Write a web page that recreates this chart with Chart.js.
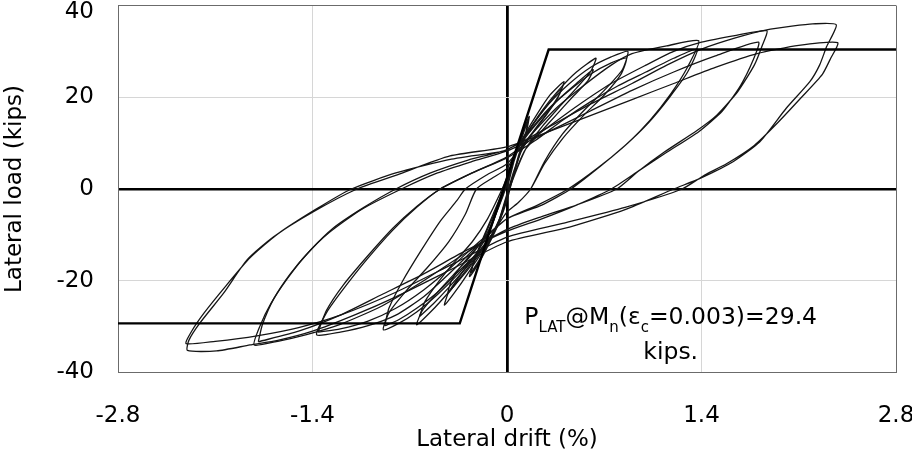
<!DOCTYPE html>
<html>
<head>
<meta charset="utf-8">
<script src="https://cdn.jsdelivr.net/npm/chart.js@4/dist/chart.umd.min.js"></script>
<style>
  html, body { margin: 0; padding: 0; background: #fff; }
</style>
</head>
<body>
<canvas id="myChart" width="912" height="454"></canvas>
<script>
// axis ticks
const xTicks = [-2.8, -1.4, 0, 1.4, 2.8];
const xTickLabels = ['-2.8', '-1.4', '0', '1.4', '2.8'];
const yTicks = [-40, -20, 0, 20, 40];
const yTickLabels = ['-40', '-20', '0', '20', '40'];

// bilinear envelope, P_LAT @ Mn
const envelope = [[-2.8, -29.3], [-0.34, -29.3], [0.30, 30.4], [2.8, 30.4]];

// hysteresis, [drift %, load kips], one array per drift level (two cycles each)
const loop1 = [[0, 0], [0.05, 6], [0.1, 11], [0.16, 15.8],
  [0.14, 12.5], [0.09, 7.5], [0.03, 1], [0, -2.5], [-0.06, -7.5], [-0.13, -12], [-0.2, -16], [-0.27, -19.1],
  [-0.24, -16], [-0.18, -11.5], [-0.1, -6], [-0.03, -1], [0, 1.5], [0.05, 6], [0.1, 10.5], [0.15, 14.8],
  [0.13, 11.5], [0.08, 7], [0.03, 1], [0, -2], [-0.06, -7], [-0.13, -11.5], [-0.2, -15.5], [-0.26, -18.3]];

const loop2 = [[-0.26, -18.3], [-0.23, -15], [-0.17, -10.5], [-0.1, -5.5], [-0.03, -0.5], [0, 2], [0.06, 8], [0.13, 12], [0.22, 16.5], [0.31, 20.5], [0.41, 23.4],
  [0.38, 20.8], [0.3, 17], [0.2, 13], [0.12, 9.5], [0.05, 4], [0, -1], [-0.06, -7], [-0.14, -12], [-0.24, -16.5], [-0.34, -21], [-0.45, -25.3],
  [-0.42, -22.5], [-0.33, -18.5], [-0.22, -14], [-0.13, -9.5], [-0.05, -3], [0, 1.5], [0.06, 7.5], [0.13, 11.5], [0.22, 15.5], [0.31, 19], [0.39, 21.8],
  [0.36, 19.5], [0.28, 16], [0.18, 12], [0.1, 8], [0.04, 2.5], [0, -1.5], [-0.06, -7], [-0.14, -11.5], [-0.24, -15.5], [-0.34, -19.5], [-0.43, -23]];

const loop3 = [[-0.43, -23], [-0.4, -20], [-0.31, -16], [-0.21, -12.5], [-0.12, -8.5], [-0.05, -3], [0, 1.5], [0.06, 8], [0.14, 12], [0.25, 17], [0.37, 21.5], [0.5, 25.5], [0.64, 28.5],
  [0.6, 25.5], [0.5, 22], [0.38, 18], [0.25, 13.5], [0.14, 9], [0.06, 3.5], [0, -1.5], [-0.06, -7.5], [-0.16, -12.5], [-0.28, -17.5], [-0.42, -22.5], [-0.54, -26.5], [-0.65, -29.6],
  [-0.61, -26.5], [-0.5, -22.5], [-0.38, -18.5], [-0.26, -14.5], [-0.15, -10], [-0.06, -4], [0, 1], [0.06, 7.5], [0.14, 11.5], [0.25, 15.5], [0.37, 19.5], [0.5, 23], [0.62, 26],
  [0.58, 23.5], [0.47, 20], [0.35, 16], [0.23, 12], [0.13, 8.5], [0.05, 3], [0, -1.5], [-0.07, -8], [-0.17, -12.5], [-0.29, -17], [-0.42, -21.5], [-0.53, -25], [-0.63, -27.8]];

const loop4 = [[-0.63, -27.8], [-0.59, -24.5], [-0.5, -20.5], [-0.38, -16], [-0.25, -11.5], [-0.14, -6.5], [-0.05, -1], [0, 2.5], [0.07, 8.5], [0.15, 12.5], [0.3, 18.5], [0.45, 23], [0.6, 26.5], [0.75, 28.8], [0.87, 30],
  [0.83, 26], [0.7, 21.5], [0.55, 17], [0.4, 12], [0.27, 6], [0.17, 0], [0.08, -3], [0, -5], [-0.1, -9.5], [-0.2, -13.5], [-0.35, -18.5], [-0.5, -23], [-0.65, -26.8], [-0.78, -29.3], [-0.89, -30.7],
  [-0.85, -27], [-0.72, -22], [-0.57, -17], [-0.42, -11.5], [-0.3, -5.5], [-0.22, 0], [-0.1, 2.5], [0, 4.5], [0.08, 9], [0.16, 12.5], [0.3, 17.5], [0.45, 21.5], [0.6, 25], [0.75, 27.5], [0.86, 28.5],
  [0.82, 25], [0.7, 20.5], [0.55, 16], [0.4, 11], [0.27, 5.5], [0.17, 0], [0.08, -3], [0, -5], [-0.1, -9.5], [-0.2, -13.5], [-0.35, -18], [-0.5, -22.5], [-0.65, -26], [-0.78, -28.5], [-0.88, -29.8]];

const loop5 = [[-0.88, -29.8], [-0.85, -26], [-0.75, -20], [-0.62, -13.5], [-0.48, -7], [-0.36, -2.5], [-0.3, 0], [-0.15, 3], [0, 5.5], [0.15, 11], [0.35, 17.5], [0.55, 22.5], [0.75, 27], [0.9, 29.5], [1.15, 31.2], [1.38, 32.3],
  [1.3, 26.6], [1.18, 20.8], [1.03, 15], [0.87, 10], [0.67, 4.9], [0.46, 0], [0.25, -3.5], [0, -6.5], [-0.2, -12], [-0.4, -18], [-0.6, -23.5], [-0.8, -27.5], [-1.0, -29.8], [-1.2, -31.2], [-1.37, -31.8],
  [-1.3, -27], [-1.18, -21.9], [-1.01, -15.4], [-0.82, -8.9], [-0.65, -4], [-0.48, 0], [-0.25, 3.5], [0, 6.8], [0.2, 10.5], [0.4, 15], [0.6, 19], [0.8, 22.5], [1.0, 25.5], [1.2, 28.5], [1.37, 30.5],
  [1.3, 25.5], [1.17, 20], [1.02, 14.5], [0.85, 9.5], [0.65, 4.5], [0.44, 0], [0.22, -3.5], [0, -6.5], [-0.2, -11.5], [-0.4, -17], [-0.6, -22], [-0.8, -26], [-1.0, -28.8], [-1.2, -30.5], [-1.36, -31.2]];

const loop6 = [[-1.36, -31.2], [-1.3, -26.5], [-1.18, -21], [-1.0, -14.5], [-0.82, -8.5], [-0.65, -3.8], [-0.48, 0], [-0.25, 3.5], [0, 7], [0.25, 12.5], [0.5, 18], [0.75, 23], [1.0, 27], [1.2, 30], [1.4, 32], [1.65, 33.5], [1.87, 34.5],
  [1.84, 31.5], [1.78, 27], [1.66, 21.2], [1.51, 16.1], [1.37, 12.8], [1.13, 8], [0.95, 4], [0.79, 0], [0.5, -3.5], [0.25, -6], [0, -8.8], [-0.3, -14], [-0.6, -20], [-0.9, -25.5], [-1.2, -29.5], [-1.45, -31.8], [-1.65, -33.2], [-1.82, -34],
  [-1.78, -30], [-1.7, -25], [-1.58, -19.5], [-1.45, -14.5], [-1.28, -9.5], [-1.05, -4.5], [-0.76, 0], [-0.5, 3.5], [-0.25, 6], [0, 8.3], [0.3, 12.5], [0.6, 17], [0.9, 21.5], [1.2, 25.5], [1.5, 29], [1.81, 32],
  [1.77, 28], [1.68, 22.5], [1.55, 17], [1.38, 12.5], [1.15, 8], [0.95, 4], [0.75, 0], [0.5, -3.5], [0.25, -6.5], [0, -9.2], [-0.3, -13.5], [-0.6, -18.5], [-0.9, -23], [-1.2, -27.5], [-1.5, -31], [-1.79, -33.3]];

const loop7 = [[-1.79, -33.3], [-1.76, -29.5], [-1.68, -24], [-1.56, -18.5], [-1.42, -13.5], [-1.25, -8.5], [-1.03, -4], [-0.8, 0], [-0.55, 3.5], [-0.28, 6.3], [0, 8.6], [0.3, 13.5], [0.6, 18.5], [0.9, 23], [1.15, 27], [1.4, 30.5], [1.65, 33], [1.87, 34.7], [2.05, 35.5], [2.2, 36], [2.37, 35.8],
  [2.3, 31], [2.25, 27], [2.18, 23.4], [2.01, 17.6], [1.82, 10.3], [1.63, 6], [1.39, 2.3], [1.2, 0], [0.85, -4.5], [0.45, -8.3], [0, -11.5], [-0.4, -17.5], [-0.8, -23.5], [-1.1, -27.5], [-1.4, -31], [-1.65, -33], [-1.85, -34], [-2.09, -35.3], [-2.3, -35.2],
  [-2.29, -33], [-2.21, -29.2], [-2.04, -22.7], [-1.87, -15.4], [-1.68, -10.4], [-1.39, -4.9], [-1.08, 0], [-0.79, 3.1], [-0.41, 7.2], [0, 9.2], [0.3, 12.5], [0.6, 16], [0.9, 19.5], [1.2, 23], [1.5, 26.5], [1.8, 29.5], [2.1, 31.3], [2.38, 31.9],
  [2.33, 28.5], [2.27, 25], [2.12, 20], [1.95, 14.5], [1.78, 9.5], [1.58, 5.5], [1.42, 3], [1.26, 0], [0.85, -4], [0.4, -7.5], [0, -10.5], [-0.4, -16.5], [-0.8, -22.5], [-1.2, -27.5], [-1.5, -30.2], [-1.8, -32], [-2.1, -33.2], [-2.31, -33.7],
  [-2.27, -31], [-2.18, -27], [-2.02, -21], [-1.85, -15], [-1.65, -9.8], [-1.38, -4.5], [-1.12, 0], [-0.8, 3.5], [-0.4, 6.5], [0, 8.3]];

const loops = [loop1, loop2, loop3, loop4, loop5, loop6, loop7];

const FONT = 'DejaVu Sans';
const toXY = (pts) => pts.map((p) => ({ x: p[0], y: p[1] }));

const datasets = [{
  data: toXY(envelope),
  borderColor: '#000',
  borderWidth: 2.4,
  tension: 0
}];
loops.forEach((l) => {
  datasets.push({ data: toXY(l), borderColor: '#151515', borderWidth: 1.3, tension: 0.2 });
});

// P_LAT text box
const noteLabel = {
  id: 'noteLabel',
  afterDatasetsDraw(chart) {
    const { ctx, scales: { x, y } } = chart;
    const parts = [['P', 0], ['LAT', 1], ['@M', 0], ['n', 1], ['(\u03b5', 0], ['c', 1], ['=0.003)=29.4', 0]];
    const main = '23.5px "' + FONT + '"';
    const sub = '15px "' + FONT + '"';
    let left = x.getPixelForValue(0.125);
    const base = y.getPixelForValue(-29.4);
    ctx.save();
    ctx.fillStyle = '#000';
    ctx.textBaseline = 'alphabetic';
    ctx.textAlign = 'left';
    const start = left;
    parts.forEach(([t, s]) => {
      ctx.font = s ? sub : main;
      ctx.fillText(t, left, s ? base + 8 : base);
      left += ctx.measureText(t).width;
    });
    ctx.font = main;
    ctx.textAlign = 'center';
    ctx.fillText('kips.', (start + left) / 2, base + 35);
    ctx.restore();
  }
};

const gridColor = (edge) => (ctx) => {
  const v = ctx.tick.value;
  if (Math.abs(v) < 1e-9) return '#000';
  if (Math.abs(v) === edge) return '#6b6b6b';
  return '#d6d6d6';
};
const gridWidth = (w) => (ctx) => (Math.abs(ctx.tick.value) < 1e-9 ? w : 1);

const ctx = document.getElementById('myChart');
const myChart = new Chart(ctx, {
  type: 'line',
  data: { datasets },
  options: {
    responsive: false,
    animation: false,
    devicePixelRatio: 1,
    layout: { padding: { top: 5.5, right: 16, bottom: 0, left: 0 } },
    elements: { point: { radius: 0 }, line: { fill: false } },
    plugins: { legend: { display: false }, tooltip: { enabled: false } },
    scales: {
      x: {
        type: 'linear',
        min: -2.8,
        max: 2.8,
        afterBuildTicks: (s) => { s.ticks = xTicks.map((v) => ({ value: v })); },
        afterFit: (s) => { s.height = 81.5; s.paddingLeft = 0; s.paddingRight = 0; },
        ticks: {
          callback: (v, i) => xTickLabels[i],
          color: '#000',
          padding: 30,
          maxRotation: 0,
          autoSkip: false,
          font: { family: FONT, size: 23 }
        },
        grid: { color: gridColor(2.8), lineWidth: gridWidth(2.8), drawTicks: false },
        border: { color: '#6b6b6b', width: 1 },
        title: {
          display: true,
          text: 'Lateral drift (%)',
          color: '#000',
          font: { family: FONT, size: 23 },
          padding: { top: 0, bottom: 0 }
        }
      },
      y: {
        type: 'linear',
        min: -40,
        max: 40,
        afterBuildTicks: (s) => { s.ticks = yTicks.map((v) => ({ value: v })); },
        afterFit: (s) => { s.width = 118; s.paddingTop = 0; s.paddingBottom = 0; },
        ticks: {
          // top label sits a little lower so it is not cut by the canvas edge
          callback: (v, i) => (v === 40 ? ['', yTickLabels[i]] : yTickLabels[i]),
          color: '#000',
          padding: 24,
          font: (c) => ({ family: FONT, size: 23, lineHeight: c.tick && c.tick.value === 40 ? '14px' : 1.2 })
        },
        grid: { color: gridColor(40), lineWidth: gridWidth(2.4), drawTicks: false },
        border: { color: '#6b6b6b', width: 1 },
        title: {
          display: true,
          text: 'Lateral load (kips)',
          color: '#000',
          font: { family: FONT, size: 23 },
          padding: { top: 1, bottom: 0 }
        }
      }
    }
  },
  plugins: [noteLabel]
});
</script>
</body>
</html>
